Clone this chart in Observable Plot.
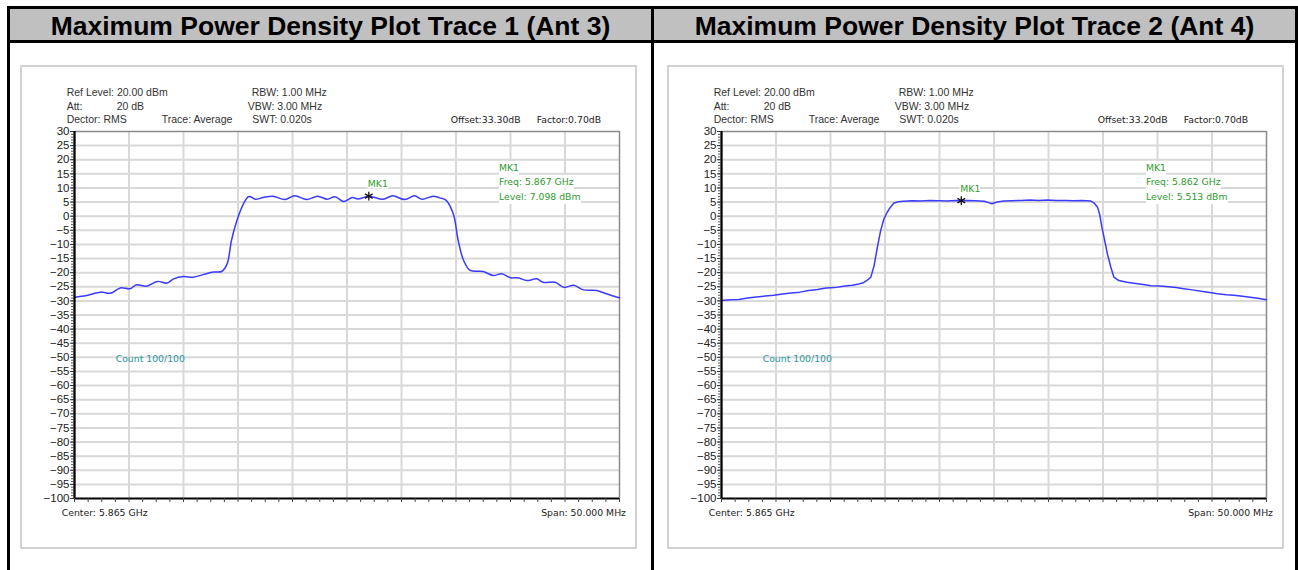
<!DOCTYPE html>
<html>
<head>
<meta charset="utf-8">
<script src="https://cdn.jsdelivr.net/npm/d3@7"></script>
<script src="https://cdn.jsdelivr.net/npm/@observablehq/plot@0.6"></script>
<style>
  body { margin: 0; background: #fff; }
  #root { position: relative; width: 1298px; height: 570px; overflow: hidden; font-family: "Liberation Sans", Arial, sans-serif; }
  .blk { position: absolute; background: #000; }
  .cell { position: absolute; background: #c0c0c0; text-align: center; font-weight: bold; font-size: 26.5px; line-height: 31px; color: #000; white-space: nowrap; }
  .frame { position: absolute; box-sizing: border-box; border: 2px solid #d2d2d2; background: #fff; }
  .t { position: absolute; white-space: nowrap; line-height: 14px; height: 14px; }
  .hd { font-family: "Liberation Sans", Arial, sans-serif; font-size: 10.5px; color: #333; }
  .tah { font-family: "DejaVu Sans", Verdana, sans-serif; font-size: 9.3px; color: #222; }
  .grn { font-family: "DejaVu Sans", Verdana, sans-serif; font-size: 9.3px; color: #2f9a2f; background: #fff; }
  .teal { font-family: "DejaVu Sans", Verdana, sans-serif; font-size: 9.3px; color: #2a97a0; }
  svg { position: absolute; }
</style>
</head>
<body>
<div id="root"></div>
<script>
// ---------- data ----------
const titles = ["Maximum Power Density Plot Trace 1 (Ant 3)", "Maximum Power Density Plot Trace 2 (Ant 4)"];
const offsetLabels = ["Offset:33.30dB", "Offset:33.20dB"];
const factorLabels = ["Factor:0.70dB", "Factor:0.70dB"];
const markerFreqs = [5867.0, 5862.0];          // MHz
const markerLevels = [7.098, 5.513];           // dBm
const markerFreqLabels = ["Freq: 5.867 GHz", "Freq: 5.862 GHz"];
const markerLevelLabels = ["Level: 7.098 dBm", "Level: 5.513 dBm"];
const yTicks = [30, 25, 20, 15, 10, 5, 0, -5, -10, -15, -20, -25, -30, -35, -40, -45, -50, -55, -60, -65, -70, -75, -80, -85, -90, -95, -100];
const xGrid = [5845, 5850, 5855, 5860, 5865, 5870, 5875, 5880, 5885];
const xDomain = [5840, 5890];
const yDomain = [-100, 30];

const trace1Freq = [5840.0, 5841.1, 5842.4, 5843.3, 5844.2, 5845.1, 5845.7, 5846.6, 5847.6, 5848.5, 5849.1, 5850.0, 5850.9, 5851.8, 5852.75, 5853.5, 5854.0, 5854.4, 5854.9, 5855.5,
  5856.0, 5856.6, 5857.3, 5858.2, 5859.3, 5860.2, 5861.3, 5862.3, 5863.2, 5863.9, 5864.7, 5865.5, 5866.0, 5867.0, 5868.3, 5869.2, 5870.3, 5871.2, 5871.9, 5872.9, 5873.5, 5874.1,
  5874.7, 5874.9, 5875.2, 5875.7, 5876.3, 5877.5, 5878.4, 5879.2, 5880.0, 5880.7, 5881.5, 5882.4, 5883.0, 5884.1, 5884.9, 5885.8, 5886.7, 5887.9, 5888.8, 5889.8, 5890.0];
const trace1Level = [-28.7, -28.1, -26.9, -27.3, -25.4, -25.7, -24.3, -24.8, -23.1, -23.7, -22.2, -21.4, -21.6, -20.7, -19.8, -19.6, -16.9, -8.6, -1.5, 4.4,
  7.0, 6.0, 6.6, 7.1, 5.9, 7.2, 5.9, 7.1, 6.0, 6.9, 5.2, 6.6, 6.1, 7.1, 6.0, 7.2, 5.9, 7.2, 6.0, 7.1, 6.5, 5.6,
  1.4, -1.5, -8.6, -15.7, -19.2, -19.6, -21.0, -20.4, -21.8, -21.8, -22.8, -22.2, -23.4, -23.4, -25.2, -24.5, -26.1, -26.3, -27.5, -28.7, -28.9];

const trace2Freq = [5840.0, 5840.8, 5841.6, 5842.4, 5843.2, 5844.0, 5844.8, 5845.6, 5846.4, 5847.2, 5848.0, 5848.8, 5849.6, 5850.4, 5851.2, 5852.0, 5852.6, 5853.0, 5853.4, 5853.7,
  5854.0, 5854.3, 5854.6, 5854.9, 5855.2, 5855.5, 5855.8, 5856.2, 5856.7, 5857.5, 5858.3, 5859.1, 5859.9, 5860.7, 5861.5, 5862.0, 5862.5, 5863.3, 5864.1, 5864.5, 5864.8,
  5865.3, 5865.9, 5866.7, 5867.5, 5868.3, 5869.1, 5869.9, 5870.7, 5871.5, 5872.3, 5873.1, 5873.85, 5874.2, 5874.5, 5874.7, 5874.9, 5875.15, 5875.4, 5875.7, 5876.0, 5876.45,
  5877.2, 5878.0, 5878.7, 5879.4, 5880.2, 5881.0, 5881.7, 5882.4, 5883.2, 5884.0, 5884.8, 5885.5, 5886.3, 5887.0, 5887.8, 5888.5, 5889.2, 5890.0];
const trace2Level = [-29.9, -29.6, -29.5, -29.0, -28.6, -28.3, -28.0, -27.6, -27.2, -26.9, -26.3, -26.0, -25.4, -25.3, -24.8, -24.5, -24.0, -23.6, -22.6, -21.6,
  -17.5, -11.0, -5.1, -1.0, 1.4, 3.2, 4.6, 5.1, 5.3, 5.5, 5.4, 5.6, 5.5, 5.4, 5.6, 5.5, 5.6, 5.5, 5.3, 4.8, 4.4,
  5.0, 5.4, 5.5, 5.6, 5.7, 5.6, 5.7, 5.6, 5.6, 5.5, 5.6, 5.4, 4.6, 3.2, 0.5, -3.9, -8.5, -13.3, -17.8, -21.6, -22.8,
  -23.4, -23.8, -24.2, -24.6, -24.7, -25.0, -25.3, -25.7, -26.1, -26.6, -27.0, -27.5, -27.8, -28.0, -28.4, -28.7, -29.1, -29.6];

const traces = [
  {freq: trace1Freq, level: trace1Level, curve: "catmull-rom"},
  {freq: trace2Freq, level: trace2Level, curve: "linear"}
];

// ---------- layout ----------
const root = document.getElementById("root");
function box(cls, l, t, w, h, txt) {
  const d = document.createElement("div");
  d.className = cls;
  d.style.left = l + "px"; d.style.top = t + "px";
  d.style.width = w + "px"; d.style.height = h + "px";
  if (txt) d.textContent = txt;
  root.appendChild(d);
  return d;
}
function txt(s, x, yc, cls, right) {
  const d = document.createElement("div");
  d.className = "t " + cls;
  d.textContent = s;
  d.style.left = x + "px";
  d.style.top = (yc - 7) + "px";
  if (right) d.style.transform = "translateX(-100%)";
  root.appendChild(d);
}

// table
const c1 = box("cell", 10, 9, 641, 31, titles[0]);
const c2 = box("cell", 654, 9, 641, 31, titles[1]);
[c1, c2].forEach(c => { c.style.paddingTop = "2px"; c.style.height = "29px"; });
box("blk", 7, 6, 1291, 3);
box("blk", 7, 40, 1291, 3);
box("blk", 7, 6, 3, 564);
box("blk", 651, 6, 3, 564);
box("blk", 1295, 6, 3, 564);

const panelX = [0, 647];

traces.forEach((tr, i) => {
  const ox = panelX[i];
  box("frame", 20 + ox, 65, 617, 484);

  const data = tr.freq.map((f, j) => ({f, v: tr.level[j]}));
  const marker = [{f: markerFreqs[i], v: markerLevels[i]}];

  const chart = Plot.plot({
    width: 617, height: 484,
    marginLeft: 54, marginRight: 18, marginTop: 66, marginBottom: 51,
    x: {domain: xDomain, axis: null},
    y: {domain: yDomain, axis: null},
    style: {background: "transparent", color: "#222", fontFamily: "'Liberation Sans', Arial, sans-serif", overflow: "visible"},
    marks: [
      Plot.gridX(xGrid, {stroke: "#d9d9d9", strokeOpacity: 1, strokeWidth: 2}),
      Plot.gridY(yTicks.filter(v => v > -100 && v < 30), {stroke: "#d9d9d9", strokeOpacity: 1, strokeWidth: 2}),
      Plot.ruleY([yDomain[1]], {stroke: "#8a8a8a", strokeWidth: 1.5}),
      Plot.ruleX([xDomain[1]], {stroke: "#8a8a8a", strokeWidth: 1.5}),
      Plot.line(data, {x: "f", y: "v", stroke: "#3b3bff", strokeWidth: 1.5, curve: tr.curve}),
      Plot.ruleX([xDomain[0]], {stroke: "#000", strokeWidth: 2.3}),
      Plot.ruleY([yDomain[0]], {stroke: "#000", strokeWidth: 2}),
      Plot.axisY(d3.range(-100, 31, 1), {anchor: "left", tickSize: 3, tickFormat: () => "", stroke: "#555", label: null}),
      Plot.axisY(yTicks, {anchor: "left", tickSize: 4, tickPadding: 1, fontSize: 11.5, stroke: "#333", label: null}),
      Plot.axisX(d3.range(5840, 5890.01, 1.25), {anchor: "bottom", tickSize: 4, tickFormat: () => "", stroke: "#444", label: null}),
      Plot.dot(marker, {x: "f", y: "v", symbol: "asterisk", r: 4.2, stroke: "#111", strokeWidth: 1.3}),
      Plot.text(marker, {x: "f", y: "v", text: () => "MK1", textAnchor: "start", dx: -1, dy: -12,
        fill: "#2f9a2f", stroke: "white", strokeWidth: 3, fontSize: 9.3, fontFamily: "'DejaVu Sans', Verdana, sans-serif"})
    ]
  });
  chart.style.left = (20 + ox) + "px";
  chart.style.top = "65px";
  root.appendChild(chart);

  // instrument header texts
  txt("Ref Level: 20.00 dBm", 66.7 + ox, 92, "hd");
  txt("Att:", 66.7 + ox, 105.5, "hd");
  txt("20 dB", 116.7 + ox, 105.5, "hd");
  txt("Dector: RMS", 66.7 + ox, 119.3, "hd");
  txt("Trace: Average", 161.7 + ox, 119.3, "hd");
  txt("RBW: 1.00 MHz", 251.7 + ox, 92, "hd");
  txt("VBW: 3.00 MHz", 247.7 + ox, 105.5, "hd");
  txt("SWT: 0.020s", 252.3 + ox, 119.3, "hd");
  txt(offsetLabels[i], 450.7 + ox, 120, "tah");
  txt(factorLabels[i], 536.7 + ox, 120, "tah");
  txt("MK1", 499 + ox, 168.3, "grn");
  txt(markerFreqLabels[i], 499 + ox, 182, "grn");
  txt(markerLevelLabels[i], 499 + ox, 196.5, "grn");
  txt("Count 100/100", 115.7 + ox, 359.3, "teal");
  txt("Center: 5.865 GHz", 61.7 + ox, 512.7, "tah");
  txt("Span: 50.000 MHz", 626 + ox, 512.7, "tah", true);
});
</script>
</body>
</html>
